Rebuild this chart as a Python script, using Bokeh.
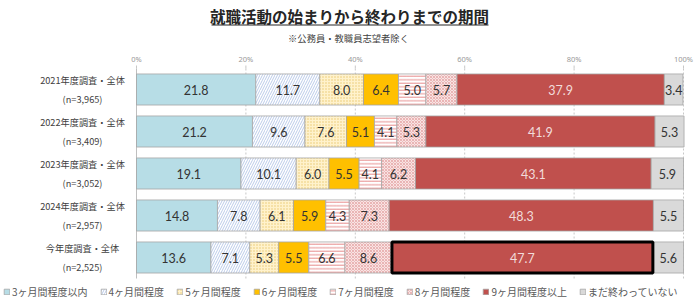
import numpy as np
from bokeh.plotting import figure
from bokeh.models import ColumnDataSource, Range1d, Legend, LegendItem
from bokeh.core.properties import value
from bokeh.embed import file_html
from bokeh.resources import INLINE

# --- data -------------------------------------------------------------------
periods = ["3ヶ月間程度以内", "4ヶ月間程度", "5ヶ月間程度", "6ヶ月間程度",
           "7ヶ月間程度", "8ヶ月間程度", "9ヶ月間程度以上", "まだ終わっていない"]
surveys = ["2021年度調査・全体", "2022年度調査・全体", "2023年度調査・全体",
           "2024年度調査・全体", "今年度調査・全体"]
sample_sizes = ["(n=3,965)", "(n=3,409)", "(n=3,052)", "(n=2,957)", "(n=2,525)"]

within_3m = [21.8, 21.2, 19.1, 14.8, 13.6]
about_4m = [11.7, 9.6, 10.1, 7.8, 7.1]
about_5m = [8.0, 7.6, 6.0, 6.1, 5.3]
about_6m = [6.4, 5.1, 5.5, 5.9, 5.5]
about_7m = [5.0, 4.1, 4.1, 4.3, 6.6]
about_8m = [5.7, 5.3, 6.2, 7.3, 8.6]
over_9m = [37.9, 41.9, 43.1, 48.3, 47.7]
not_finished = [3.4, 5.3, 5.9, 5.5, 5.6]

tick_values = [0, 20, 40, 60, 80, 100]
tick_labels = ["0%", "20%", "40%", "60%", "80%", "100%"]

title_text = "就職活動の始まりから終わりまでの期間"
subtitle_text = "※公務員・教職員志望者除く"

# --- styling ------------------------------------------------------------------
keys = ["k0", "k1", "k2", "k3", "k4", "k5", "k6", "k7"]
series = [within_3m, about_4m, about_5m, about_6m, about_7m, about_8m, over_9m, not_finished]
fills = ["#b7dde6", "#ffffff", "#fff2cc", "#ffc000", "#ffffff", "#f9e3e3", "#c0504d", "#d9d9d9"]
hatches = [" ", "/", ".", " ", "-", "x", " ", " "]
hatch_colors = ["#000000", "#9db5e0", "#e8c870", "#000000", "#e07070", "#e4aaaa", "#000000", "#000000"]
hatch_scales = [6, 5, 3, 6, 3.5, 3, 6, 6]
hatch_weights = [1, 0.7, 0.8, 1, 0.8, 0.8, 1, 1]
label_colors = ["#333333"] * 6 + ["#f2dcdb", "#333333"]

W, H = 700, 303

# Layout of the canvas (pixels): 0% at x=136, 100% at x=683; rows 42px apart,
# first row centred at y=89.
px_per_pct = (683 - 136) / 100
ROW_PX, ROW0_PX = 42, 89


def row_at(py):
    """Row-unit coordinate for a pixel height measured from the top."""
    return (py - ROW0_PX) / ROW_PX


def pct_at(px):
    """Percent-axis coordinate for a pixel position measured from the left."""
    return (px - 136) / px_per_pct


p = figure(width=W, height=H, output_backend="svg", toolbar_location=None,
           x_range=Range1d(pct_at(0), pct_at(W)),
           y_range=Range1d(row_at(H), row_at(0)), min_border=0)
p.outline_line_color = None
p.axis.visible = False
p.grid.visible = False

rows = np.arange(len(surveys))
data = {"row": rows, "survey": surveys, "n": sample_sizes}
for k, s in zip(keys, series):
    data[k] = s
src = ColumnDataSource(data)

# percentage scale along the top: labels, small ticks, dashed gridlines
top, bottom = row_at(68), row_at(278)
n_ticks = len(tick_values)
p.text(x=tick_values, y=[row_at(58)] * n_ticks, text=tick_labels,
       text_align="center", text_baseline="middle", text_font=value("Noto Sans"),
       text_font_size="7.5px", text_color="#999999")
p.segment(x0=tick_values, y0=[row_at(65)] * n_ticks, x1=tick_values,
          y1=[top] * n_ticks, line_color="#c8c8c8", line_width=1)
p.segment(x0=tick_values[1:], y0=[top] * (n_ticks - 1), x1=tick_values[1:],
          y1=[bottom] * (n_ticks - 1), line_color="#c8c8c8", line_width=1, line_dash="2 2")
p.segment(x0=[0], y0=[top], x1=[0], y1=[bottom], line_color="#bfbfbf", line_width=1)

# stacked bars
renderers = p.hbar_stack(keys, y="row", height=0.74, source=src,
                         fill_color=fills, hatch_pattern=hatches, hatch_color=hatch_colors,
                         hatch_scale=hatch_scales, hatch_weight=hatch_weights,
                         line_color="#a6a6a6", line_width=0.8)

# segment value labels at segment centres
vals = np.array(series)            # shape: (segments, surveys)
right = np.cumsum(vals, axis=0)
left = right - vals
mid = (left + right) / 2
lab = dict(x=[], y=[], t=[], c=[])
for i in range(len(keys)):
    for j in rows:
        lab["x"].append(mid[i, j])
        lab["y"].append(j)
        lab["t"].append(f"{vals[i, j]:.1f}")
        lab["c"].append(label_colors[i])
p.text(x="x", y="y", text="t", text_color="c", source=ColumnDataSource(lab),
       text_align="center", text_baseline="middle", text_font=value("Lato"),
       text_font_size="12.5px")

# highlight this year's "9ヶ月間程度以上" segment
last = len(surveys) - 1
hl = ColumnDataSource(dict(y=[last], l=[left[6, last]], r=[right[6, last]]))
p.hbar(y="y", left="l", right="r", height=0.74, source=hl, fill_color=None,
       line_color="black", line_width=3)

# category labels (two lines, centred)
cat = ColumnDataSource(dict(y=rows, t=[f"{s}\n{n}" for s, n in zip(surveys, sample_sizes)]))
p.text(x=0, y="y", text="t", source=cat, x_offset=-54, text_align="center",
       text_baseline="middle", text_font=value("Noto Sans CJK JP"), text_font_size="9.2px",
       text_color="#404040", text_line_height=1.35)

# title, underline and note
p.text(x=[pct_at(349)], y=[row_at(15)], text=[title_text], text_align="center",
       text_baseline="middle", text_font=value("Noto Sans CJK JP"), text_font_size="15.5px",
       text_font_style="bold", text_color="#262626")
p.segment(x0=[pct_at(211)], y0=[row_at(24.5)], x1=[pct_at(488)], y1=[row_at(24.5)],
          line_color="#262626", line_width=1.2)
p.text(x=[pct_at(348)], y=[row_at(37)], text=[subtitle_text], text_align="center",
       text_baseline="middle", text_font=value("Noto Sans CJK JP"), text_font_size="9.3px",
       text_color="#404040")

# legend along the bottom edge
items = [LegendItem(label=lbl, renderers=[r]) for lbl, r in zip(periods, renderers)]
legend = Legend(items=items, orientation="horizontal", location=(3, 4),
                glyph_width=7, glyph_height=7, label_standoff=2, spacing=12,
                padding=0, margin=0, border_line_color=None, background_fill_alpha=0,
                label_text_font="Noto Sans CJK JP", label_text_font_size="10px",
                label_text_color="#595959", label_height=11)
p.add_layout(legend, "center")

open("out.html", "w").write(file_html(p, INLINE))
